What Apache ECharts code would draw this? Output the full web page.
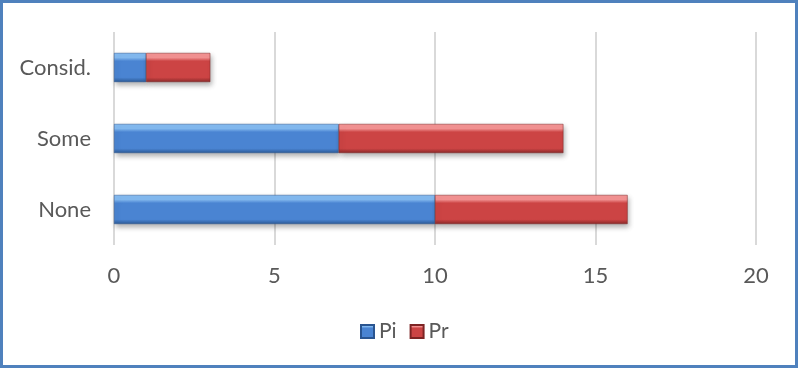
<!DOCTYPE html>
<html>
<head>
<meta charset="utf-8">
<style>
  html, body { margin: 0; padding: 0; background: #ffffff; }
  #chart { width: 798px; height: 369px; }
</style>
<script src="https://cdn.jsdelivr.net/npm/echarts@6/dist/echarts.min.js"></script>
</head>
<body>
<div id="chart"></div>
<script>
// Categories, bottom to top
const categories = ['None', 'Some', 'Consid.'];
const piValues = [10, 7, 1];
const prValues = [6, 7, 2];
const axisTicks = [0, 5, 10, 15, 20];

const FONT = 'Lato, "Open Sans", sans-serif';
const TEXT = '#595959';

function bevel(light, mid, dark) {
  return new echarts.graphic.LinearGradient(0, 0, 0, 1, [
    { offset: 0, color: light },
    { offset: 0.16, color: light },
    { offset: 0.28, color: mid },
    { offset: 0.84, color: mid },
    { offset: 1, color: dark }
  ]);
}

const blueFill = bevel('#84bbf2', '#4a84d2', '#2c5a96');
const redFill = bevel('#f59393', '#cc4444', '#8a2929');

const chart = echarts.init(document.getElementById('chart'), null, { renderer: 'canvas' });

chart.setOption({
  animation: false,
  backgroundColor: '#ffffff',
  textStyle: { fontFamily: FONT },
  graphic: [{
    type: 'rect',
    shape: { x: 1.5, y: 1.5, width: 795, height: 365 },
    style: { fill: 'none', stroke: '#4f81bd', lineWidth: 3 },
    silent: true,
    z: 100
  }],
  grid: { left: 114, right: 42, top: 32, bottom: 124, containLabel: false },
  legend: {
    left: 360,
    top: 321,
    padding: 0,
    itemWidth: 13,
    itemHeight: 13,
    itemGap: 13,
    icon: 'rect',
    textStyle: { color: TEXT, fontSize: 21, lineHeight: 21, fontFamily: FONT },
    data: ['Pi', 'Pr']
  },
  xAxis: {
    type: 'value',
    min: axisTicks[0],
    max: axisTicks[axisTicks.length - 1],
    interval: axisTicks[1] - axisTicks[0],
    axisLine: { show: false },
    axisTick: { show: false },
    splitLine: { show: true, lineStyle: { color: '#d9d9d9', width: 2 } },
    axisLabel: { color: TEXT, fontSize: 22, fontFamily: FONT, margin: 20 }
  },
  yAxis: {
    type: 'category',
    data: categories,
    axisLine: { show: false },
    axisTick: { show: false },
    axisLabel: { color: TEXT, fontSize: 22, fontFamily: FONT, margin: 23 }
  },
  series: [
    {
      name: 'Pi',
      type: 'bar',
      stack: 'total',
      data: piValues,
      barCategoryGap: '59%',
      itemStyle: {
        color: blueFill,
        borderColor: '#2a5590',
        borderWidth: 0.5,
        shadowColor: 'rgba(0,0,0,0.3)',
        shadowBlur: 5,
        shadowOffsetX: 2,
        shadowOffsetY: 3
      }
    },
    {
      name: 'Pr',
      type: 'bar',
      stack: 'total',
      data: prValues,
      barCategoryGap: '59%',
      itemStyle: {
        color: redFill,
        borderColor: '#7d2424',
        borderWidth: 0.5,
        shadowColor: 'rgba(0,0,0,0.3)',
        shadowBlur: 5,
        shadowOffsetX: 2,
        shadowOffsetY: 3
      }
    }
  ]
});
</script>
</body>
</html>
